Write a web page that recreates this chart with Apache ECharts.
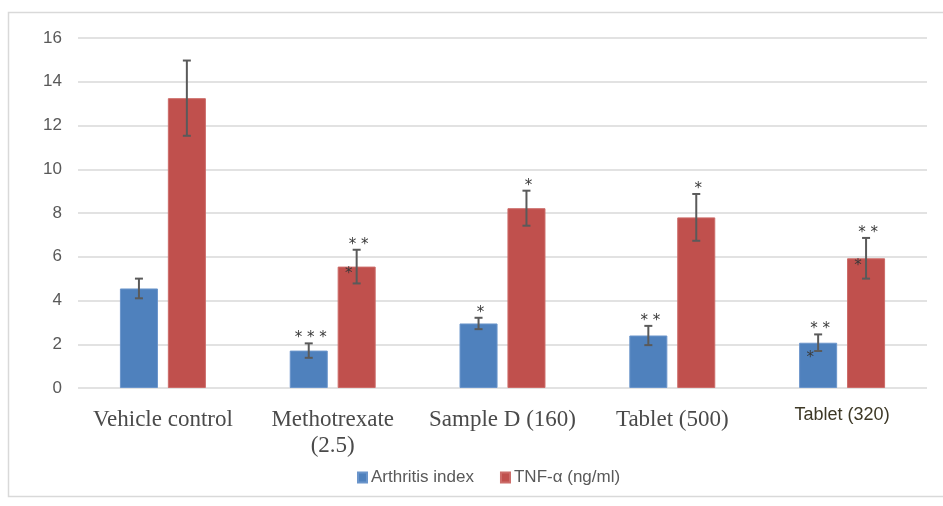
<!DOCTYPE html>
<html>
<head>
<meta charset="utf-8">
<script src="https://cdn.jsdelivr.net/npm/echarts@6/dist/echarts.min.js"></script>
<style>
  html, body { margin: 0; padding: 0; background: #fff; }
  #chart { width: 943px; height: 506px; }
</style>
</head>
<body>
<div id="chart"></div>
<script>
// Groups and measured values (mean ± SEM)
const categories = ['Vehicle control', 'Methotrexate\n(2.5)', 'Sample D (160)', 'Tablet (500)', 'Tablet (320)'];
const arthritisIndex = [4.55, 1.71, 2.95, 2.40, 2.07];
const arthritisErr = [0.45, 0.33, 0.26, 0.44, 0.38];
const tnfAlpha = [13.25, 5.55, 8.22, 7.80, 5.93];
const tnfErr = [1.72, 0.77, 0.80, 1.07, 0.93];
// Significance marks: above the error bar, and the extra star tucked inside the bar top
const arthritisSig = ['', '* * *', '*', '* *', '* *'];
const arthritisSigInner = ['', '', '', '', '*'];
const tnfSig = ['', '* *', '*', '*', '* *'];
const tnfSigInner = ['', '*', '', '', '*'];
const yTicks = [0, 2, 4, 6, 8, 10, 12, 14, 16];

const BLUE = '#4f81bd';
const RED = '#c0504d';
const BAR_W = 0.224;   // bar width as a share of the category band
const BAR_GAP = 0.26;  // gap between the two bars as a share of bar width
const STAR_FONT = '15px "DejaVu Sans", sans-serif';

function errorRenderer(values, errs, sig, sigInner, side, innerDy) {
  return function (params, api) {
    const i = params.dataIndex;
    const v = values[i], e = errs[i];
    const bandW = api.size([1, 0])[0];
    const bw = bandW * BAR_W;
    const dx = side * (bw + bw * BAR_GAP) / 2;
    const top = api.coord([i, v + e]);
    const bot = api.coord([i, v - e]);
    const barTop = api.coord([i, v]);
    const x = top[0] + dx;
    const cap = 4;
    const ls = { stroke: '#5a5a5a', lineWidth: 2 };
    const children = [
      { type: 'line', shape: { x1: x, y1: top[1], x2: x, y2: bot[1] }, style: ls },
      { type: 'line', shape: { x1: x - cap, y1: top[1], x2: x + cap, y2: top[1] }, style: ls },
      { type: 'line', shape: { x1: x - cap, y1: bot[1], x2: x + cap, y2: bot[1] }, style: ls }
    ];
    if (sig[i]) {
      children.push({
        type: 'text',
        style: {
          x: x + 2, y: top[1] - 5, text: sig[i],
          fill: '#3a3a3a', font: STAR_FONT,
          align: 'center', verticalAlign: 'middle'
        }
      });
    }
    if (sigInner[i]) {
      children.push({
        type: 'text',
        style: {
          x: x - 8, y: barTop[1] + innerDy, text: sigInner[i],
          fill: '#3a3a3a', font: STAR_FONT,
          align: 'center', verticalAlign: 'middle'
        }
      });
    }
    return { type: 'group', children: children };
  };
}

const chart = echarts.init(document.getElementById('chart'));
chart.setOption({
  animation: false,
  backgroundColor: '#fff',
  graphic: [{
    type: 'rect',
    shape: { x: 8.5, y: 12.5, width: 960, height: 484 },
    style: { fill: 'none', stroke: '#d9d9d9', lineWidth: 1.5 },
    z: -1
  }],
  grid: { left: 78, right: 16, top: 38, bottom: 118 },
  legend: {
    data: ['Arthritis index', 'TNF-α (ng/ml)'],
    left: 352,
    top: 464,
    itemWidth: 9,
    itemHeight: 10,
    itemGap: 26,
    icon: 'rect',
    textStyle: { fontFamily: '"Liberation Sans Narrow", "Liberation Sans", sans-serif', fontSize: 17, color: '#595959', padding: [0, 0, 0, -1] }
  },
  xAxis: {
    type: 'category',
    data: categories,
    axisLine: { show: false },
    axisTick: { show: false },
    axisLabel: {
      interval: 0,
      margin: 19,
      fontFamily: '"Liberation Serif", "Times New Roman", serif',
      fontSize: 23,
      lineHeight: 26,
      color: '#4a4a4a',
      formatter: function (val, idx) {
        return idx === categories.length - 1 ? '{alt|' + val + '}' : val;
      },
      rich: {
        alt: {
          fontFamily: '"Liberation Sans Narrow", "Liberation Sans", sans-serif',
          fontSize: 18,
          color: '#3d3826',
          padding: [0, 0, 10, 0]
        }
      }
    }
  },
  yAxis: {
    type: 'value',
    min: 0,
    max: 16,
    interval: 2,
    axisLine: { show: false },
    axisTick: { show: false },
    axisLabel: {
      margin: 16,
      fontFamily: '"Liberation Sans Narrow", "Liberation Sans", sans-serif',
      fontSize: 17,
      color: '#595959',
      formatter: function (v) { return yTicks.indexOf(v) >= 0 ? String(v) : ''; }
    },
    splitLine: { lineStyle: { color: '#d9d9d9', width: 1.5 } }
  },
  series: [
    {
      name: 'Arthritis index', type: 'bar', data: arthritisIndex,
      barWidth: (BAR_W * 100) + '%', barGap: (BAR_GAP * 100) + '%',
      itemStyle: { color: BLUE, borderColor: '#6b95cb', borderWidth: 1 }
    },
    {
      name: 'TNF-α (ng/ml)', type: 'bar', data: tnfAlpha,
      barWidth: (BAR_W * 100) + '%',
      itemStyle: { color: RED, borderColor: '#cc6c69', borderWidth: 1 }
    },
    {
      type: 'custom', z: 5, silent: true,
      data: arthritisIndex.map(function (v, i) { return [i, v]; }),
      renderItem: errorRenderer(arthritisIndex, arthritisErr, arthritisSig, arthritisSigInner, -1, 15)
    },
    {
      type: 'custom', z: 5, silent: true,
      data: tnfAlpha.map(function (v, i) { return [i, v]; }),
      renderItem: errorRenderer(tnfAlpha, tnfErr, tnfSig, tnfSigInner, 1, 8)
    }
  ]
});
</script>
</body>
</html>
